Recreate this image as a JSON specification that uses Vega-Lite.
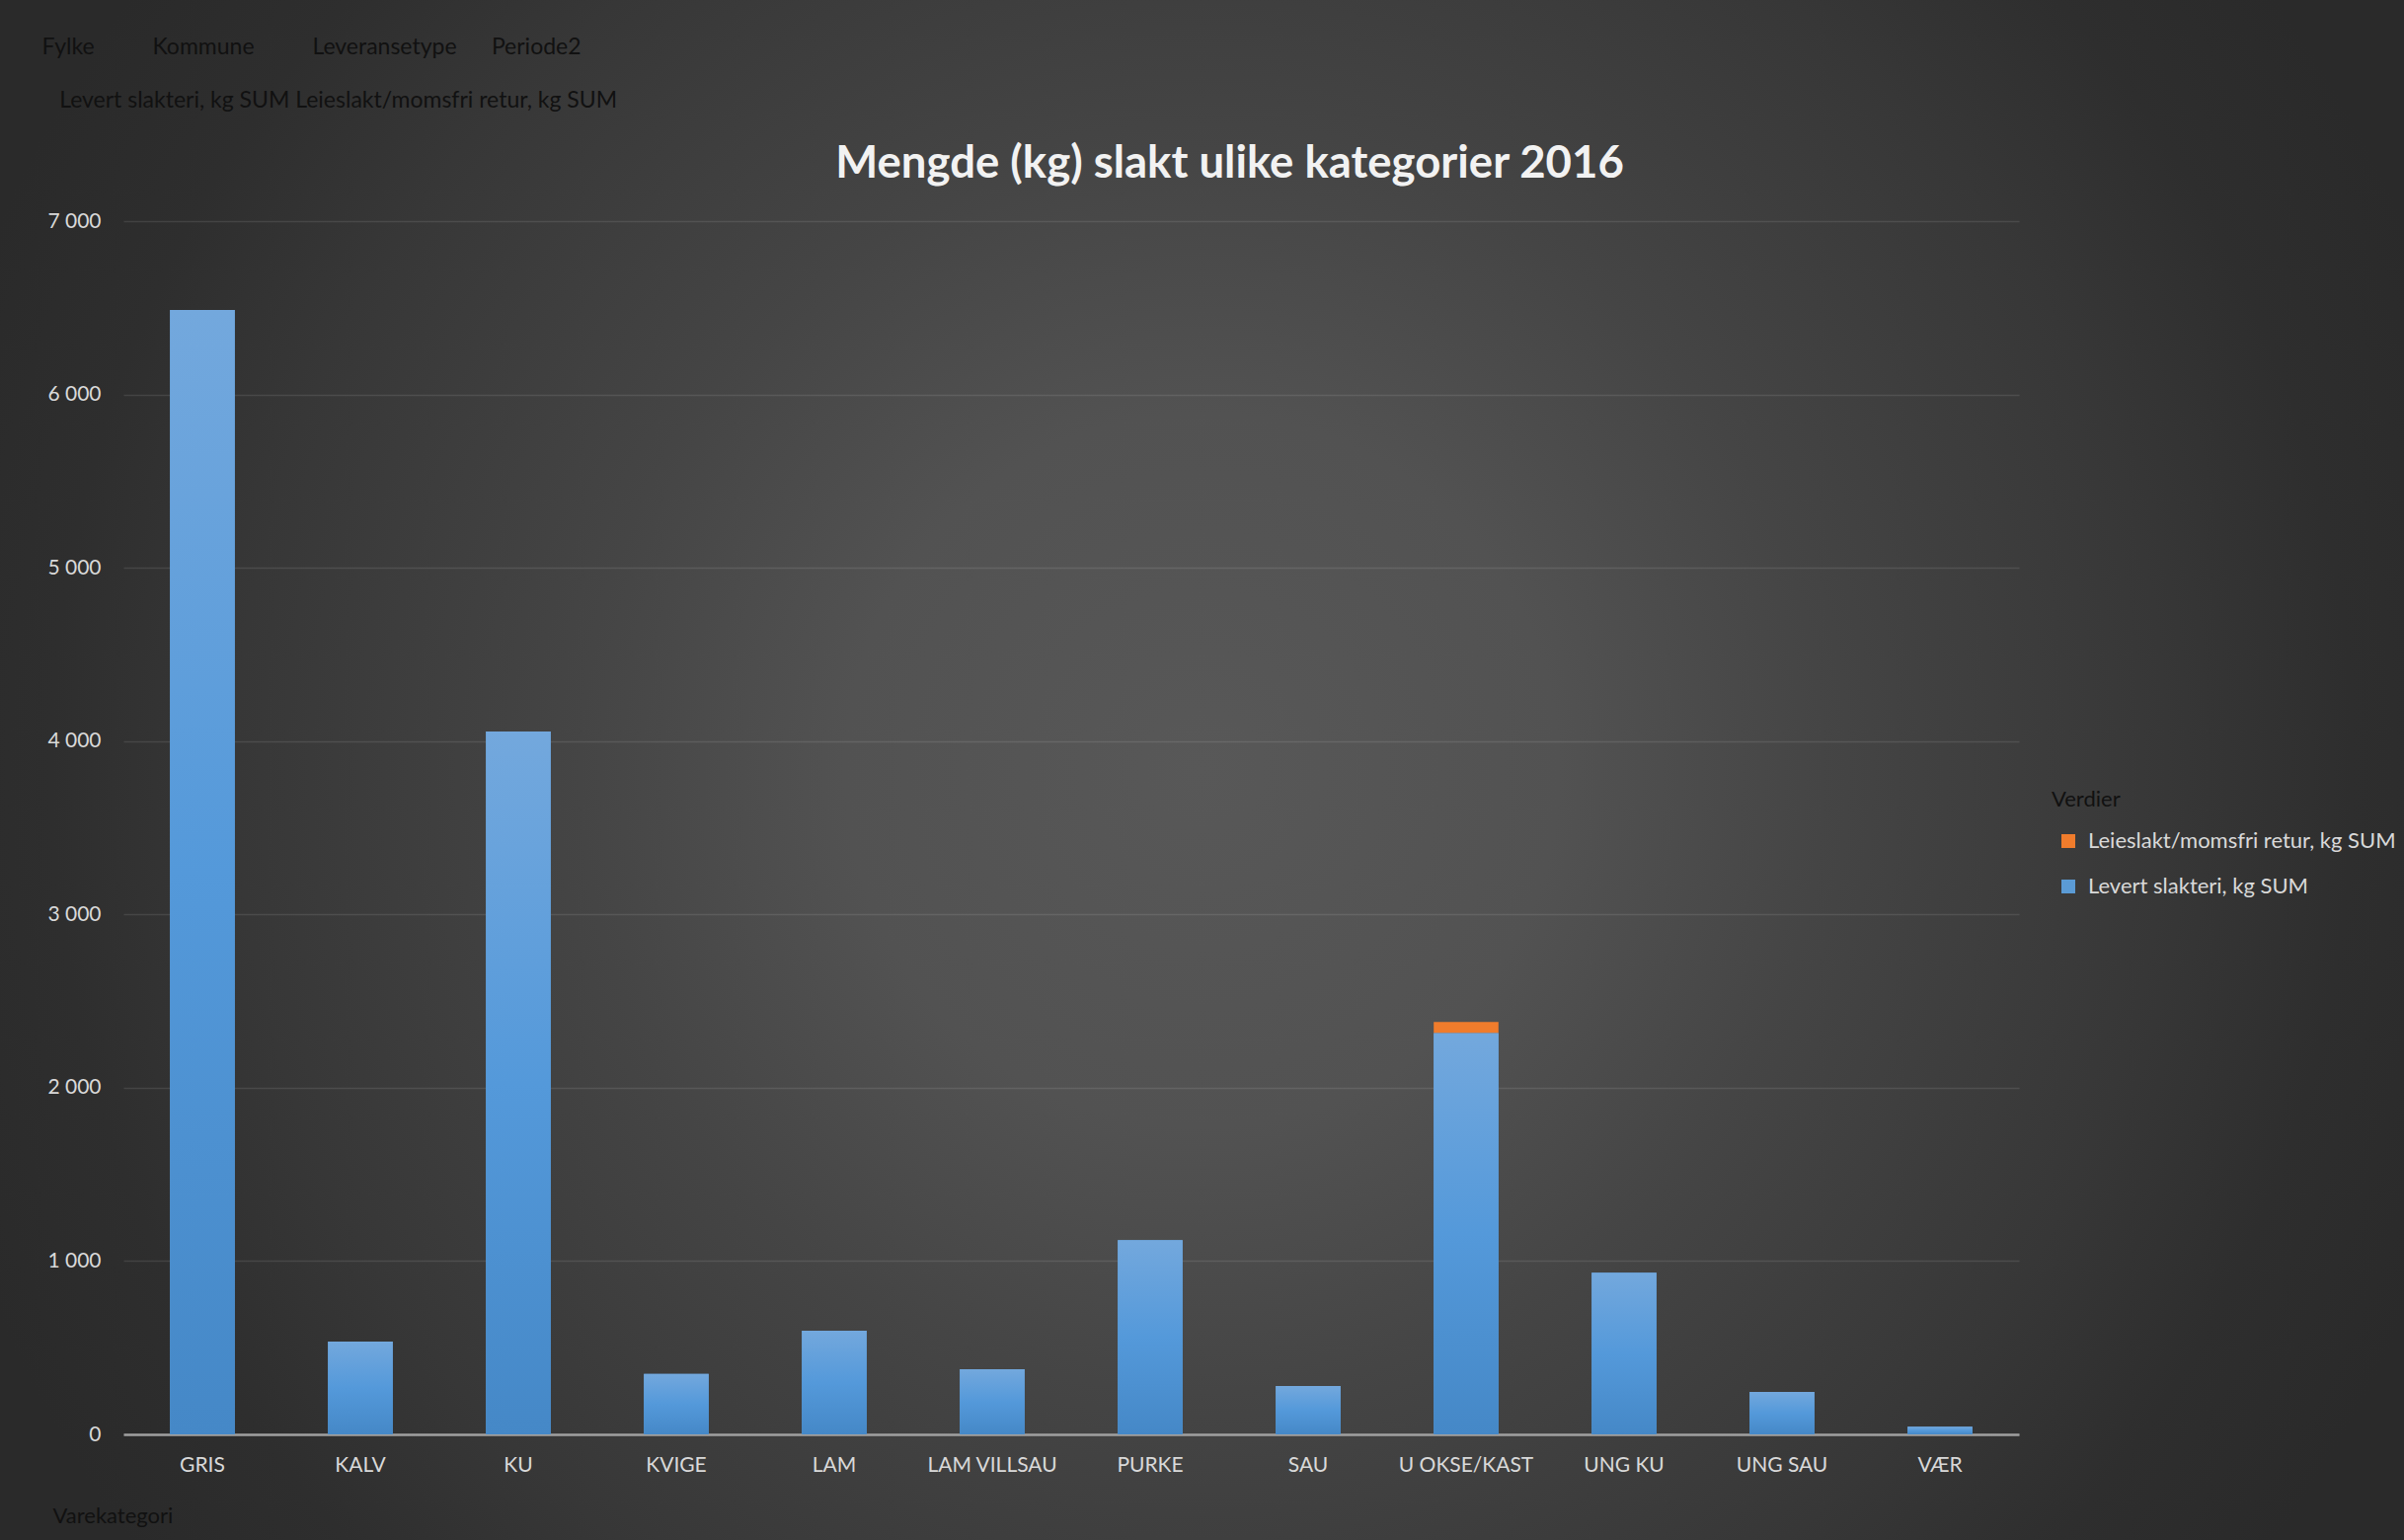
{
  "$schema": "https://vega.github.io/schema/vega-lite/v6.json",
  "width": 2435,
  "height": 1560,
  "autosize": {"type": "none"},
  "padding": 0,
  "background": "#2b2b2b",
  "data": {
    "values": [
      {"Varekategori": "GRIS", "Serie": "Levert slakteri, kg SUM", "kg": 6487},
      {"Varekategori": "KALV", "Serie": "Levert slakteri, kg SUM", "kg": 535},
      {"Varekategori": "KU", "Serie": "Levert slakteri, kg SUM", "kg": 4056},
      {"Varekategori": "KVIGE", "Serie": "Levert slakteri, kg SUM", "kg": 349},
      {"Varekategori": "LAM", "Serie": "Levert slakteri, kg SUM", "kg": 598},
      {"Varekategori": "LAM VILLSAU", "Serie": "Levert slakteri, kg SUM", "kg": 376},
      {"Varekategori": "PURKE", "Serie": "Levert slakteri, kg SUM", "kg": 1121},
      {"Varekategori": "SAU", "Serie": "Levert slakteri, kg SUM", "kg": 279},
      {"Varekategori": "U OKSE/KAST", "Serie": "Levert slakteri, kg SUM", "kg": 2315},
      {"Varekategori": "U OKSE/KAST", "Serie": "Leieslakt/momsfri retur, kg SUM", "kg": 65},
      {"Varekategori": "UNG KU", "Serie": "Levert slakteri, kg SUM", "kg": 933},
      {"Varekategori": "UNG SAU", "Serie": "Levert slakteri, kg SUM", "kg": 245},
      {"Varekategori": "VÆR", "Serie": "Levert slakteri, kg SUM", "kg": 44}
    ]
  },
  "layer": [
    {
      "mark": {"type": "bar"},
      "encoding": {
        "x": {
          "field": "Varekategori",
          "type": "nominal",
          "sort": null,
          "scale": {"range": [125, 2045], "paddingInner": 0.59, "paddingOuter": 0.295},
          "axis": {
            "orient": "bottom",
            "offset": -107,
            "title": "Varekategori",
            "titleX": 53,
            "titleY": 89,
            "titleAlign": "left",
            "titleAnchor": null,
            "titleBaseline": "alphabetic",
            "titleFontSize": 22,
            "titleFontWeight": "normal",
            "titleColor": "#111111",
            "labelAngle": 0,
            "labelPadding": 20,
            "labelFontSize": 21,
            "labelColor": "#d9d9d9",
            "ticks": false,
            "domain": true,
            "domainColor": "#a0a0a0",
            "domainWidth": 2.5,
            "grid": false
          }
        },
        "y": {
          "field": "kg",
          "type": "quantitative",
          "stack": "zero",
          "scale": {"domain": [0, 7000], "nice": false, "range": [1453, 224]},
          "axis": {
            "orient": "left",
            "offset": -125,
            "values": [0, 1000, 2000, 3000, 4000, 5000, 6000, 7000],
            "labelExpr": "replace(format(datum.value, ','), ',', ' ')",
            "labelPadding": 23,
            "labelFontSize": 21,
            "labelColor": "#d9d9d9",
            "ticks": false,
            "domain": false,
            "grid": true,
            "gridColor": "#ffffff",
            "gridOpacity": 0.1,
            "gridWidth": 1.5,
            "title": "Mengde (kg) slakt ulike kategorier 2016",
            "titleAngle": 0,
            "titleX": 1120,
            "titleY": 179,
            "titleAlign": "center",
            "titleAnchor": null,
            "titleBaseline": "alphabetic",
            "titleFontSize": 45.5,
            "titleFontWeight": "bold",
            "titleColor": "#f2f2f2"
          }
        },
        "color": {
          "field": "Serie",
          "type": "nominal",
          "scale": {
            "domain": ["Leieslakt/momsfri retur, kg SUM", "Levert slakteri, kg SUM"],
            "range": ["#f07c2c", "#5b9bd5"]
          },
          "legend": {
            "orient": "none",
            "legendX": 2078,
            "legendY": 800,
            "title": "Verdier",
            "titleColor": "#111111",
            "titleFontSize": 22,
            "titleFontWeight": "normal",
            "titlePadding": 19,
            "labelColor": "#d9d9d9",
            "labelFontSize": 22,
            "labelOffset": 9,
            "labelLimit": 400,
            "symbolType": "square",
            "symbolSize": 196,
            "symbolOffset": 6,
            "symbolStrokeWidth": 0,
            "rowPadding": 24,
            "padding": 0
          }
        },
        "order": {"field": "Serie", "sort": "descending"}
      }
    },
    {
      "transform": [{"filter": "datum.Serie == 'Levert slakteri, kg SUM'"}],
      "mark": {
        "type": "bar",
        "fill": {"gradient": "linear", "x1": 0, "y1": 0, "x2": 0, "y2": 1, "stops": [{"offset": 0, "color": "#73a8dd"}, {"offset": 0.5, "color": "#5499da"}, {"offset": 1, "color": "#4588c7"}]}
      },
      "encoding": {
        "x": {
          "field": "Varekategori",
          "type": "nominal",
          "sort": null,
          "axis": {
            "orient": "top",
            "labels": false,
            "ticks": false,
            "domain": false,
            "grid": false,
            "title": ["Fylke\u00a0\u00a0\u00a0\u00a0\u00a0\u00a0\u00a0\u00a0\u00a0\u00a0Kommune\u00a0\u00a0\u00a0\u00a0\u00a0\u00a0\u00a0\u00a0\u00a0\u00a0Leveransetype\u00a0\u00a0\u00a0\u00a0\u00a0\u00a0Periode2", "\u200b\u00a0\u00a0\u00a0Levert slakteri, kg SUM Leieslakt/momsfri retur, kg SUM"],
            "titleX": 42,
            "titleY": 54,
            "titleAlign": "left",
            "titleAnchor": null,
            "titleAngle": 0,
            "titleBaseline": "alphabetic",
            "titleLineHeight": 54,
            "titleFontSize": 23,
            "titleFontWeight": "normal",
            "titleColor": "#111111"
          }
        },
        "y": {"field": "kg", "type": "quantitative", "axis": null}
      }
    }
  ],
  "resolve": {"axis": {"x": "independent", "y": "independent"}},
  "config": {
    "font": "Lato",
    "view": {
      "stroke": null,
      "fill": {"gradient": "radial", "x1": 0.5, "y1": 0.5, "r1": 0, "x2": 0.5, "y2": 0.5, "r2": 0.55, "stops": [{"offset": 0, "color": "#585858"}, {"offset": 0.27, "color": "#525252"}, {"offset": 0.47, "color": "#454545"}, {"offset": 0.73, "color": "#373737"}, {"offset": 0.87, "color": "#2e2e2e"}, {"offset": 1, "color": "#2a2a2a"}]}
    }
  }
}
